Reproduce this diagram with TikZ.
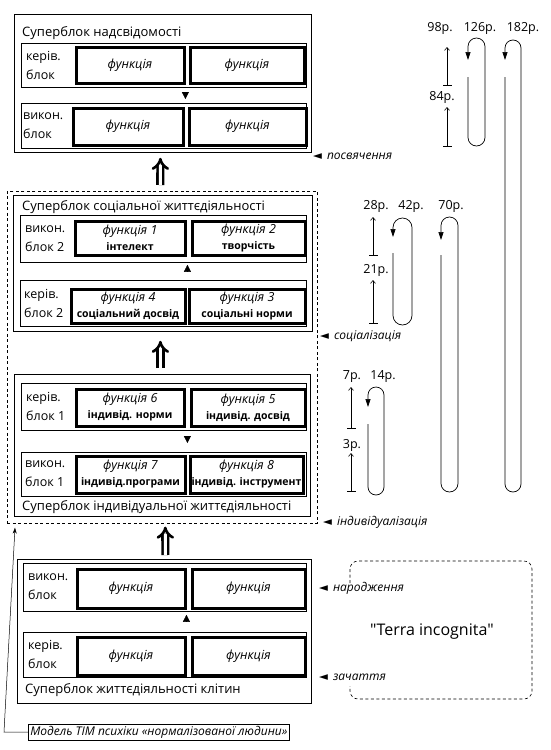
\documentclass[tikz,border=0pt]{standalone}
\usepackage{fontspec}
\setmainfont{Open Sans}
\newfontfamily\symfont{DejaVu Sans}
\usetikzlibrary{arrows.meta}

\newcommand\fn[2]{\textit{функція #1}\\{\bfseries\fontsize{10.5}{16}\selectfont #2}}
\newcommand\pointer{{\symfont\fontsize{11.5}{11}\selectfont ◄}\hspace{5pt}}

\tikzset{
  sblock/.style={draw, line width=0.8pt, inner sep=0pt, anchor=north west},
  rowbox/.style={draw, line width=0.8pt, inner sep=0pt, anchor=north west},
  funcbox/.style={draw, line width=3pt, inner sep=0pt, anchor=north west, align=center,
    font=\fontsize{12.5}{16}\selectfont},
  rowlabel/.style={anchor=west, inner sep=0pt, align=left, font=\fontsize{12.5}{19}\selectfont},
  sbtitle/.style={anchor=west, inner sep=0pt, font=\fontsize{13}{15}\selectfont},
  stage/.style={anchor=west, inner sep=0pt, font=\fontsize{12}{14}\selectfont\itshape},
  uparrow/.style={double, line width=2.6pt, double distance=3pt, -{Implies}},
  rowtip/.style={line width=0.4pt, -{Triangle[length=7pt,width=7pt]}},
  yearlabel/.style={inner sep=0pt, font=\fontsize{12.5}{14}\selectfont},
  scalebar/.style={line width=0.6pt, {Bar[width=9pt]}-{Straight Barb[length=3pt,width=5pt]}},
  loopline/.style={line width=0.7pt, -{Triangle[length=8pt,width=5pt]}},
  dashline/.style={line width=0.6pt, dash pattern=on 3pt off 2.5pt}
}

\begin{document}
\begin{tikzpicture}[x=1pt,y=-1pt]
\useasboundingbox (0,0) rectangle (551,750);

% superblock of superconsciousness
\node[sblock, minimum width=297pt, minimum height=138pt] (sbTop) at (14,14) {};
\node[sbtitle] (tTop) at (22,33) {Суперблок надсвідомості};
\node[rowbox, minimum width=285pt, minimum height=44pt] (kTop) at (21,43) {};
\node[rowlabel] (kTopL) at (26,65) {керів.\\блок};
\node[funcbox, minimum width=108pt, minimum height=36pt] (kTopA) at (74.5,45.5) {\textit{функція}};
\node[funcbox, minimum width=114pt, minimum height=36pt] (kTopB) at (188.5,45.5) {\textit{функція}};
\node[rowbox, minimum width=285pt, minimum height=45pt] (vTop) at (21,103) {};
\node[rowlabel] (vTopL) at (23,125.5) {викон.\\блок};
\node[funcbox, minimum width=110pt, minimum height=37pt] (vTopA) at (71.5,106.5) {\textit{функція}};
\node[funcbox, minimum width=117pt, minimum height=37pt] (vTopB) at (187.5,106.5) {\textit{функція}};
\draw[rowtip, shorten <=5pt, shorten >=4pt] ([xshift=21.5pt]kTop.south) -- ([xshift=21.5pt]vTop.north);

% envelope of the social and individual superblocks
\node[sblock, dashline, minimum width=310pt, minimum height=332pt] (env) at (7,191) {};

% social superblock
\node[sblock, minimum width=299pt, minimum height=136pt] (sbSoc) at (13,195) {};
\node[sbtitle] (tSoc) at (22,207) {Суперблок соціальної життєдіяльності};
\node[rowbox, minimum width=286pt, minimum height=47pt] (v2) at (20,215) {};
\node[rowlabel] (v2L) at (25,238.5) {викон.\\блок 2};
\node[funcbox, minimum width=110pt, minimum height=34pt] (v2A) at (73.5,219.5) {\fn{1}{інтелект}};
\node[funcbox, minimum width=113pt, minimum height=34pt] (v2B) at (190.5,219.5) {\fn{2}{творчість}};
\node[rowbox, minimum width=286pt, minimum height=46pt] (k2) at (20,280) {};
\node[rowlabel] (k2L) at (24,303) {керів.\\блок 2};
\node[funcbox, minimum width=114pt, minimum height=34pt] (k2A) at (69.5,287.5) {\fn{4}{соціальний досвід}};
\node[funcbox, minimum width=116pt, minimum height=34pt] (k2B) at (187.5,287.5) {\fn{3}{соціальні норми}};
\draw[rowtip, shorten <=11pt, shorten >=2pt] ([xshift=24pt]k2.north) -- ([xshift=24pt]v2.south);

% individual superblock
\node[sblock, minimum width=296pt, minimum height=142pt] (sbInd) at (14,374) {};
\node[sbtitle] (tInd) at (22,507) {Суперблок індивідуальної життєдіяльності};
\node[rowbox, minimum width=285pt, minimum height=47pt] (k1) at (21,383) {};
\node[rowlabel] (k1L) at (26,406.5) {керів.\\блок 1};
\node[funcbox, minimum width=108pt, minimum height=37pt] (k1A) at (74.5,387.5) {\fn{6}{індивід. норми}};
\node[funcbox, minimum width=114pt, minimum height=37pt] (k1B) at (189.5,387.5) {\fn{5}{індивід. досвід}};
\node[rowbox, minimum width=285pt, minimum height=44pt] (v1) at (21,452) {};
\node[rowlabel] (v1L) at (25,474) {викон.\\блок 1};
\node[funcbox, minimum width=109pt, minimum height=37pt] (v1A) at (74.5,454.5) {\fn{7}{індивід.програми}};
\node[funcbox, minimum width=113pt, minimum height=37pt] (v1B) at (188.5,454.5) {\fn{8}{індивід. інструмент}};
\draw[rowtip, shorten <=6pt, shorten >=9pt] ([xshift=23.5pt]k1.south) -- ([xshift=23.5pt]v1.north);

% cell superblock
\node[sblock, minimum width=294pt, minimum height=144pt] (sbCell) at (17,559) {};
\node[sbtitle] (tCell) at (25,690) {Суперблок життєдіяльності клітин};
\node[rowbox, minimum width=283pt, minimum height=48pt] (vC) at (23,563) {};
\node[rowlabel] (vCL) at (28,587) {викон.\\блок};
\node[funcbox, minimum width=108pt, minimum height=39pt] (vCA) at (75.5,567.5) {\textit{функція}};
\node[funcbox, minimum width=113pt, minimum height=39pt] (vCB) at (190.5,567.5) {\textit{функція}};
\node[rowbox, minimum width=283pt, minimum height=45pt] (kC) at (23,632) {};
\node[rowlabel] (kCL) at (28,654.5) {керів.\\блок};
\node[funcbox, minimum width=108pt, minimum height=38pt] (kCA) at (75.5,635.5) {\textit{функція}};
\node[funcbox, minimum width=113pt, minimum height=38pt] (kCB) at (190.5,635.5) {\textit{функція}};
\draw[rowtip, shorten <=11pt, shorten >=3pt] ([xshift=21.5pt]kC.north) -- ([xshift=21.5pt]vC.south);

% transitions between superblocks
\draw[uparrow, shorten <=6pt, shorten >=5pt] ([xshift=-2pt]env.north) -- ([xshift=-2.5pt]sbTop.south);
\draw[uparrow, shorten <=6pt, shorten >=9pt] ([xshift=-2pt]sbInd.north) -- ([xshift=-2.5pt]sbSoc.south);
\draw[uparrow, shorten <=4pt, shorten >=3pt] ([xshift=1pt]sbCell.north) -- ([xshift=3pt]env.south);

% stages
\node[stage] (sPosv) at (313,156) {\pointer посвячення};
\node[stage] (sSoc) at (320,336) {\pointer соціалізація};
\node[stage] (sInd) at (323,522) {\pointer індивідуалізація};
\node[stage] (sBirth) at (319,588) {\pointer народження};
\node[stage] (sConc) at (319,677) {\pointer зачаття};

% terra incognita
\draw[dashline, rounded corners=8pt] (350,583) -- (350,561) -- (532,561) -- (532,699) -- (350,699) -- (350,686);
\node[font=\fontsize{16}{18}\selectfont] (terra) at (432,632) {\textquotedbl Terra incognita\textquotedbl};

% model label
\node[draw, line width=0.6pt, anchor=west, inner sep=2pt, font=\fontsize{12}{14}\selectfont\itshape] (model) at (28,732) {Модель ТІМ психіки «нормалізованої людини»};
\coordinate (bend) at (4,732);
\draw[line width=0.5pt, -{Stealth[length=6pt,width=4pt]}] (model.west) -- (bend) -- ([xshift=8pt,yshift=-4pt]env.south west);

% years
\node[yearlabel] (y98) at (440,28) {98р.};
\node[yearlabel] (y126) at (480,28) {126р.};
\node[yearlabel] (y182) at (523,28) {182р.};
\node[yearlabel] (y84) at (442,97) {84р.};
\node[yearlabel] (y28) at (376,206) {28р.};
\node[yearlabel] (y42) at (411,206) {42р.};
\node[yearlabel] (y70) at (451,206) {70р.};
\node[yearlabel] (y21) at (376,270) {21р.};
\node[yearlabel] (y7) at (352,377) {7р.};
\node[yearlabel] (y14) at (383,377) {14р.};
\node[yearlabel] (y3) at (352,445) {3р.};

% scales
\draw[scalebar] (447,86) -- (447,47);
\draw[scalebar] (447,147) -- (447,107);
\draw[scalebar] (373,256) -- (373,217);
\draw[scalebar] (373,324) -- (373,280);
\draw[scalebar] (351,429) -- (351,387);
\draw[scalebar] (351,492) -- (351,453);

% loops
\draw[loopline] (368,424) -- (368,487) arc[start angle=180, end angle=0, radius=8] -- (384,395) arc[start angle=0, end angle=-180, radius=8] -- (368,407);
\draw[loopline] (393,253) -- (393,315.5) arc[start angle=180, end angle=0, radius=9.5] -- (412,227.5) arc[start angle=0, end angle=-180, radius=9.5] -- (393,237);
\draw[loopline] (468,77) -- (468,137.5) arc[start angle=180, end angle=0, radius=8.5] -- (485,46.5) arc[start angle=0, end angle=-180, radius=8.5] -- (468,60);
\draw[loopline] (441,255) -- (441,483.5) arc[start angle=180, end angle=0, radius=8.5] -- (458,225.5) arc[start angle=0, end angle=-180, radius=8.5] -- (441,240);
\draw[loopline] (505,77) -- (505,484) arc[start angle=180, end angle=0, radius=8] -- (521,48) arc[start angle=0, end angle=-180, radius=8] -- (505,60);
\end{tikzpicture}
\end{document}
